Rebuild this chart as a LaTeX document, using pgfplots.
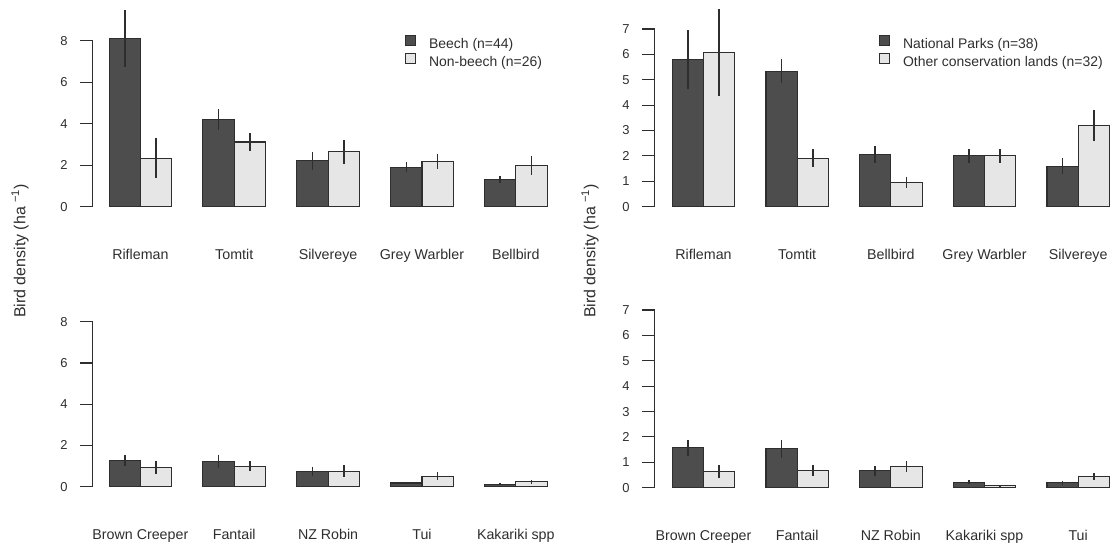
\documentclass[border=0pt]{standalone}
\usepackage{fontspec}
\setmainfont{Liberation Sans}
\usepackage{pgfplots}
\usepackage{pgfplotstable}
\pgfplotsset{compat=1.18}
\definecolor{darkbar}{HTML}{4D4D4D}
\definecolor{lightbar}{HTML}{E6E6E6}
\definecolor{ink}{HTML}{2E2E2E}

% pos = group centre; dark/light = mean density, de/le = error
\pgfplotstableread{
pos dark de light le
2  8.10 1.37 2.33 0.96
5  4.19 0.51 3.12 0.45
8  2.22 0.43 2.64 0.58
11 1.90 0.24 2.19 0.36
14 1.30 0.18 2.00 0.45
}\tabTL
\pgfplotstableread{
pos dark de light le
2  5.81 1.16 6.07 1.71
5  5.33 0.47 1.91 0.36
8  2.05 0.33 0.95 0.22
11 2.00 0.28 2.00 0.28
14 1.59 0.31 3.20 0.62
}\tabTR
\pgfplotstableread{
pos dark de light le
2  1.27 0.29 0.93 0.30
5  1.23 0.33 1.00 0.26
8  0.75 0.22 0.75 0.29
11 0.18 0.07 0.51 0.20
14 0.11 0.05 0.24 0.10
}\tabBL
\pgfplotstableread{
pos dark de light le
2  1.57 0.32 0.64 0.24
5  1.53 0.36 0.67 0.22
8  0.66 0.20 0.83 0.23
11 0.22 0.08 0.08 0.03
14 0.20 0.08 0.43 0.14
}\tabBR

\pgfplotsset{
  panel/.style={
    scale only axis, width=454.6bp, xmin=0.47, xmax=15, ymin=0,
    axis lines=left, axis line style={-, draw=ink, line width=1.1bp},
    x axis line style={draw=none},
    xtick={2,5,8,11,14}, xtick style={draw=none},
    tick align=outside, major tick length=12.5bp,
    ytick style={draw=ink, line width=1.1bp},
    clip=false,
    xticklabel style={font=\fontsize{14.3}{16}\selectfont, text=ink, anchor=base, yshift=-40bp},
    yticklabel style={font=\fontsize{13}{14}\selectfont, text=ink, xshift=-9bp},
    /pgf/number format/assume math mode=true,
    legend cell align=left,
    legend style={draw=none, fill=none, inner sep=0pt, anchor=north west,
      font=\fontsize{14}{16}\selectfont, text=ink, row sep=0bp,
      nodes={inner sep=1bp, text height=10bp, text depth=3.5bp},
      /tikz/every odd column/.append style={column sep=12bp}},
  },
  darkbars/.style={ybar, bar width=1, bar shift=0pt, fill=darkbar, draw=ink, line width=1.1bp,
    legend image code/.code={\draw[fill=darkbar, draw=ink, line width=0.9bp] (0bp,0bp) rectangle (10bp,10bp);},
    error bars/.cd, y dir=both, y explicit, error mark=none,
    error bar style={line width=1.6bp, draw=ink, solid}},
  lightbars/.style={ybar, bar width=1, bar shift=0pt, fill=lightbar, draw=ink, line width=1.1bp,
    legend image code/.code={\draw[fill=lightbar, draw=ink, line width=0.9bp] (0bp,0bp) rectangle (10bp,10bp);},
    error bars/.cd, y dir=both, y explicit, error mark=none,
    error bar style={line width=1.6bp, draw=ink, solid}},
}

\begin{document}
\begin{tikzpicture}
\path[use as bounding box] (0bp,0bp) rectangle (1114bp,548bp);

% top left
\begin{axis}[panel, at={(92.5bp,341.3bp)}, anchor=south west, height=166bp,
  ymax=8, ytick={0,2,4,6,8},
  xticklabels={Rifleman,Tomtit,Silvereye,Grey Warbler,Bellbird},
  legend style={at={(axis cs:10.46,8.30)}}]
\addplot[darkbars] table[x expr=\thisrow{pos}-0.5, y=dark, y error=de] {\tabTL};
\addlegendentry{Beech (n=44)}
\addplot[lightbars] table[x expr=\thisrow{pos}+0.5, y=light, y error=le] {\tabTL};
\addlegendentry{Non-beech (n=26)}
\end{axis}

% top right
\begin{axis}[panel, at={(654.5bp,341.3bp)}, anchor=south west, height=177.7bp,
  xmin=0.43, width=454.9bp,
  ymax=7, ytick={0,1,2,3,4,5,6,7},
  xticklabels={Rifleman,Tomtit,Bellbird,Grey Warbler,Silvereye},
  legend style={at={(axis cs:7.62,6.79)}}]
\addplot[darkbars] table[x expr=\thisrow{pos}-0.5, y=dark, y error=de] {\tabTR};
\addlegendentry{National Parks (n=38)}
\addplot[lightbars] table[x expr=\thisrow{pos}+0.5, y=light, y error=le] {\tabTR};
\addlegendentry{Other conservation lands (n=32)}
\end{axis}

% bottom left
\begin{axis}[panel, at={(92.5bp,61.3bp)}, anchor=south west, height=165bp,
  ymax=8, ytick={0,2,4,6,8},
  xticklabels={Brown Creeper,Fantail,NZ Robin,Tui,Kakariki spp}]
\addplot[darkbars] table[x expr=\thisrow{pos}-0.5, y=dark, y error=de] {\tabBL};
\addplot[lightbars] table[x expr=\thisrow{pos}+0.5, y=light, y error=le] {\tabBL};
\end{axis}

% bottom right
\begin{axis}[panel, at={(654.5bp,60.3bp)}, anchor=south west, height=177.7bp,
  xmin=0.43, width=454.9bp,
  ymax=7, ytick={0,1,2,3,4,5,6,7},
  xticklabels={Brown Creeper,Fantail,NZ Robin,Kakariki spp,Tui}]
\addplot[darkbars] table[x expr=\thisrow{pos}-0.5, y=dark, y error=de] {\tabBR};
\addplot[lightbars] table[x expr=\thisrow{pos}+0.5, y=light, y error=le] {\tabBR};
\end{axis}

\node[rotate=90, text=ink, font=\fontsize{16}{18}\selectfont] at (20bp,297bp) {Bird density (ha \textsuperscript{−1})};
\node[rotate=90, text=ink, font=\fontsize{16}{18}\selectfont] at (590bp,297bp) {Bird density (ha \textsuperscript{−1})};
\end{tikzpicture}
\end{document}
